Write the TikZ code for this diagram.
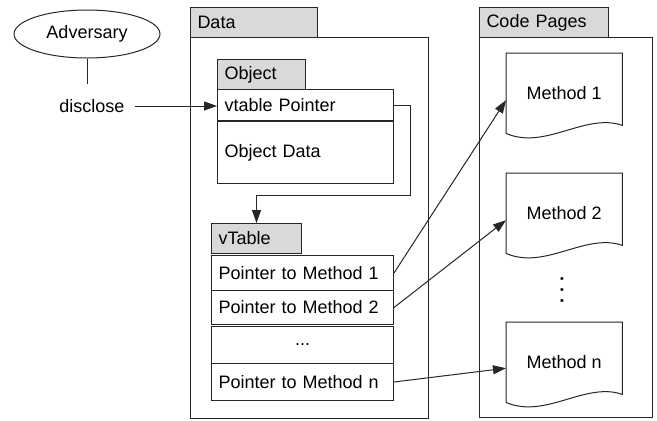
\documentclass[tikz,border=0pt]{standalone}
\usepackage{fontspec}
\setmainfont{Liberation Sans}
\usetikzlibrary{shapes.geometric,arrows.meta,calc}
\begin{document}
\begin{tikzpicture}[x=1pt,y=-1pt,
  font=\fontsize{18}{21}\selectfont,
  line/.style={draw=black!85, line width=1pt},
  arr/.style={line, -{Triangle[length=13pt,width=9pt]}},
  cell/.style={line, fill=white, rectangle, anchor=north west, inner xsep=7pt, inner ysep=0pt, align=left},
  tab/.style={cell, fill=black!15},
  frame/.style={line, rectangle, anchor=north west, inner sep=0pt},
  doc/.style={rectangle, anchor=north west, inner sep=0pt, minimum width=116pt, minimum height=80pt}]
\useasboundingbox (0,0) rectangle (657,421);

% Adversary
\node[ellipse, line, minimum width=146pt, minimum height=48pt, inner sep=0pt] (adv) at (87,34) {Adversary};
\coordinate (advend) at (87,84);
\draw[line] (adv.south) -- (advend);
\node[inner xsep=10pt] (disc) at (92,106) {disclose};

% Data
\node[frame, minimum width=238pt, minimum height=381pt] (data) at (190,37) {};
\node[tab, minimum width=127pt, minimum height=30pt, text width=113pt] (datatab) at (190,7) {Data};

\node[tab, minimum width=88pt, minimum height=30pt, text width=74pt] (objtab) at (217,59) {Object};
\node[cell, minimum width=176pt, minimum height=31pt, text width=162pt] (vptr) at (217,89) {vtable Pointer};
\node[cell, minimum width=176pt, minimum height=62pt, text width=162pt] (objdata) at (217,121) {Object Data};

\node[tab, minimum width=90pt, minimum height=30pt, text width=76pt] (vtab) at (211,223) {vTable};
\node[cell, minimum width=182pt, minimum height=35pt, text width=168pt] (r1) at (211,255) {Pointer to Method 1};
\node[cell, minimum width=182pt, minimum height=34pt, text width=168pt] (r2) at (211,290) {Pointer to Method 2};
\node[line, rectangle, anchor=north west, minimum width=182pt, minimum height=37pt, inner sep=0pt] (r3) at (211,326) {...};
\node[cell, minimum width=182pt, minimum height=37pt, text width=168pt] (rn) at (211,363) {Pointer to Method n};

% Code pages
\node[frame, minimum width=173pt, minimum height=380pt] (code) at (479,37) {};
\node[tab, minimum width=129pt, minimum height=30pt, text width=115pt] (codetab) at (479,7) {Code Pages};

\node[doc] (m1) at (506,53) {Method 1};
\node[doc] (m2) at (506,173) {Method 2};
\node[doc] (mn) at (506,322) {Method n};
\foreach \m in {m1,m2,mn}{
  \draw[line] (\m.south west) -- (\m.north west) -- (\m.north east) -- ($(\m.south east)+(0,-8)$)
    .. controls ($(\m.south east)+(-37,-21)$) and ($(\m.south east)+(-77,17)$) .. (\m.south west) -- cycle;
}
\node[rotate=90, inner sep=0pt, font=\fontsize{18}{21}\selectfont\bfseries] (vdots) at (562,290) {.\,\,.\,\,.};

% connectors
\draw[arr] (disc.east) -- (disc.east -| vptr.west);
\coordinate (bend) at (410,195);
\draw[arr] (vptr.east) -| (bend) -| (vtab.north);
\draw[arr] (r1.east) -- ([yshift=-7pt]m1.west);
\draw[arr] (r2.east) -- ([yshift=-7pt]m2.west);
\draw[arr] (rn.east) -- ([yshift=-6pt]mn.west);
\end{tikzpicture}
\end{document}
